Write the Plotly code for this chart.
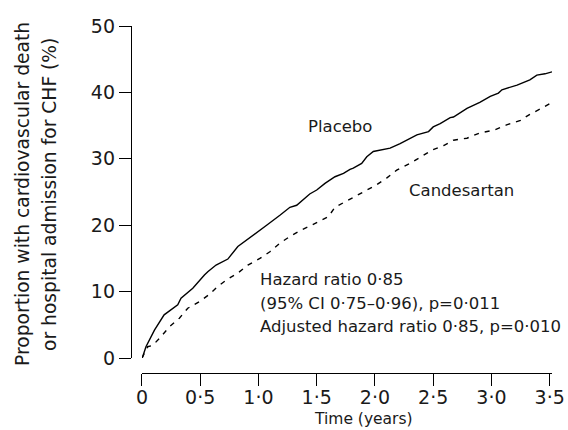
import plotly.graph_objects as go

# ---- data ----
placebo_t = [0.0, 0.006, 0.034, 0.107, 0.19, 0.307, 0.335, 0.436, 0.536, 0.565, 0.636, 0.737, 0.823,
             0.909, 0.955, 1.07, 1.184, 1.27, 1.328, 1.44, 1.5, 1.571, 1.657, 1.73, 1.786, 1.814,
             1.886, 1.93, 1.986, 2.13, 2.216, 2.36, 2.46, 2.50, 2.56, 2.646, 2.674, 2.79, 2.90,
             2.99, 3.06, 3.09, 3.22, 3.33, 3.39, 3.46, 3.52]
placebo_y = [0.0, 0.2, 1.7, 4.2, 6.5, 8.0, 9.0, 10.5, 12.5, 13.0, 14.0, 14.9, 16.8,
             17.9, 18.4, 20.0, 21.5, 22.7, 23.0, 24.7, 25.3, 26.3, 27.3, 27.8, 28.4, 28.6,
             29.3, 30.3, 31.1, 31.6, 32.3, 33.6, 34.1, 34.8, 35.3, 36.2, 36.3, 37.6, 38.5,
             39.4, 39.9, 40.4, 41.1, 41.9, 42.6, 42.8, 43.1]

cand_t = [0.0, 0.049, 0.092, 0.163, 0.235, 0.321, 0.393, 0.493, 0.58, 0.651, 0.737, 0.823,
          0.909, 1.012, 1.098, 1.184, 1.27, 1.37, 1.457, 1.556, 1.6, 1.657, 1.743, 1.829,
          1.93, 2.015, 2.10, 2.187, 2.30, 2.39, 2.49, 2.59, 2.674, 2.79, 2.90, 3.02, 3.13,
          3.25, 3.33, 3.43, 3.52]
cand_y = [0.0, 1.7, 1.9, 3.2, 4.7, 6.0, 7.5, 8.5, 9.6, 10.8, 11.9, 12.8,
          14.0, 15.0, 16.0, 17.3, 18.3, 19.3, 20.0, 20.9, 21.3, 22.7, 23.5, 24.3,
          25.3, 26.1, 27.1, 28.3, 29.3, 30.3, 31.3, 32.0, 32.8, 33.1, 33.9, 34.3, 35.1,
          35.8, 36.7, 37.6, 38.5]

x_ticks = [0, 0.5, 1.0, 1.5, 2.0, 2.5, 3.0, 3.5]
x_tick_labels = ["0", "0·5", "1·0", "1·5", "2·0", "2·5", "3·0", "3·5"]
y_ticks = [0, 10, 20, 30, 40, 50]

FONT = "DejaVu Sans"
TXT = "#1a1a1a"

fig = go.Figure()
fig.add_trace(go.Scatter(x=placebo_t, y=placebo_y, mode="lines", name="Placebo",
                         line=dict(color="black", width=1.4)))
fig.add_trace(go.Scatter(x=cand_t, y=cand_y, mode="lines", name="Candesartan",
                         line=dict(color="black", width=1.4, dash="5px,6px")))

ann_font = dict(family=FONT, size=16.5, color=TXT)
annotations = [
    dict(x=1.70, y=34.8, xref="x", yref="y", text="Placebo", showarrow=False,
         xanchor="center", yanchor="middle", font=ann_font),
    dict(x=2.742, y=25.3, xref="x", yref="y", text="Candesartan", showarrow=False,
         xanchor="center", yanchor="middle", font=ann_font),
    dict(x=0.996, y=11.75, xref="x", yref="y", text="Hazard ratio 0·85", showarrow=False,
         xanchor="left", yanchor="middle", font=ann_font),
    dict(x=0.996, y=8.28, xref="x", yref="y", text="(95% CI 0·75–0·96), p=0·011", showarrow=False,
         xanchor="left", yanchor="middle", font=ann_font),
    dict(x=0.996, y=4.82, xref="x", yref="y", text="Adjusted hazard ratio 0·85, p=0·010",
         showarrow=False, xanchor="left", yanchor="middle", font=ann_font),
    # axis titles
    dict(x=-0.2565, y=0.5159, xref="paper", yref="paper", text="Proportion with cardiovascular death",
         showarrow=False, textangle=-90, xanchor="center", yanchor="middle",
         font=dict(family=FONT, size=18.7, color=TXT)),
    dict(x=-0.1924, y=0.5159, xref="paper", yref="paper", text="or hospital admission for CHF (%)",
         showarrow=False, textangle=-90, xanchor="center", yanchor="middle",
         font=dict(family=FONT, size=18.7, color=TXT)),
    dict(x=0.5534, y=-0.1326, xref="paper", yref="paper", text="Time (years)",
         showarrow=False, xanchor="center", yanchor="middle",
         font=dict(family=FONT, size=15.5, color=TXT)),
]

fig.update_layout(
    width=568, height=430,
    margin=dict(l=131, r=16, t=26, b=57, autoexpand=False),
    paper_bgcolor="white", plot_bgcolor="white",
    showlegend=False,
    annotations=annotations,
    xaxis=dict(range=[0, 3.52], domain=[0.0261, 1], anchor="free", position=0,
               automargin=False,
               tickmode="array", tickvals=x_ticks, ticktext=x_tick_labels,
               ticks="outside", ticklen=12, tickwidth=1.3, tickcolor="black",
               ticklabelstandoff=-5,
               showline=True, linecolor="black", linewidth=1.3,
               showgrid=False, zeroline=False,
               tickfont=dict(family=FONT, size=19, color=TXT)),
    yaxis=dict(range=[0, 50], domain=[0.0432, 1], anchor="free", position=0,
               automargin=False,
               tickmode="array", tickvals=y_ticks,
               ticks="outside", ticklen=12, tickwidth=1.3, tickcolor="black",
               showline=True, linecolor="black", linewidth=1.3,
               showgrid=False, zeroline=False,
               tickfont=dict(family=FONT, size=19, color=TXT)),
)

fig.write_html(
    "out.html",
    config={"displayModeBar": False},
    post_script="document.body.style.margin='0';document.body.style.overflow='hidden';",
)
